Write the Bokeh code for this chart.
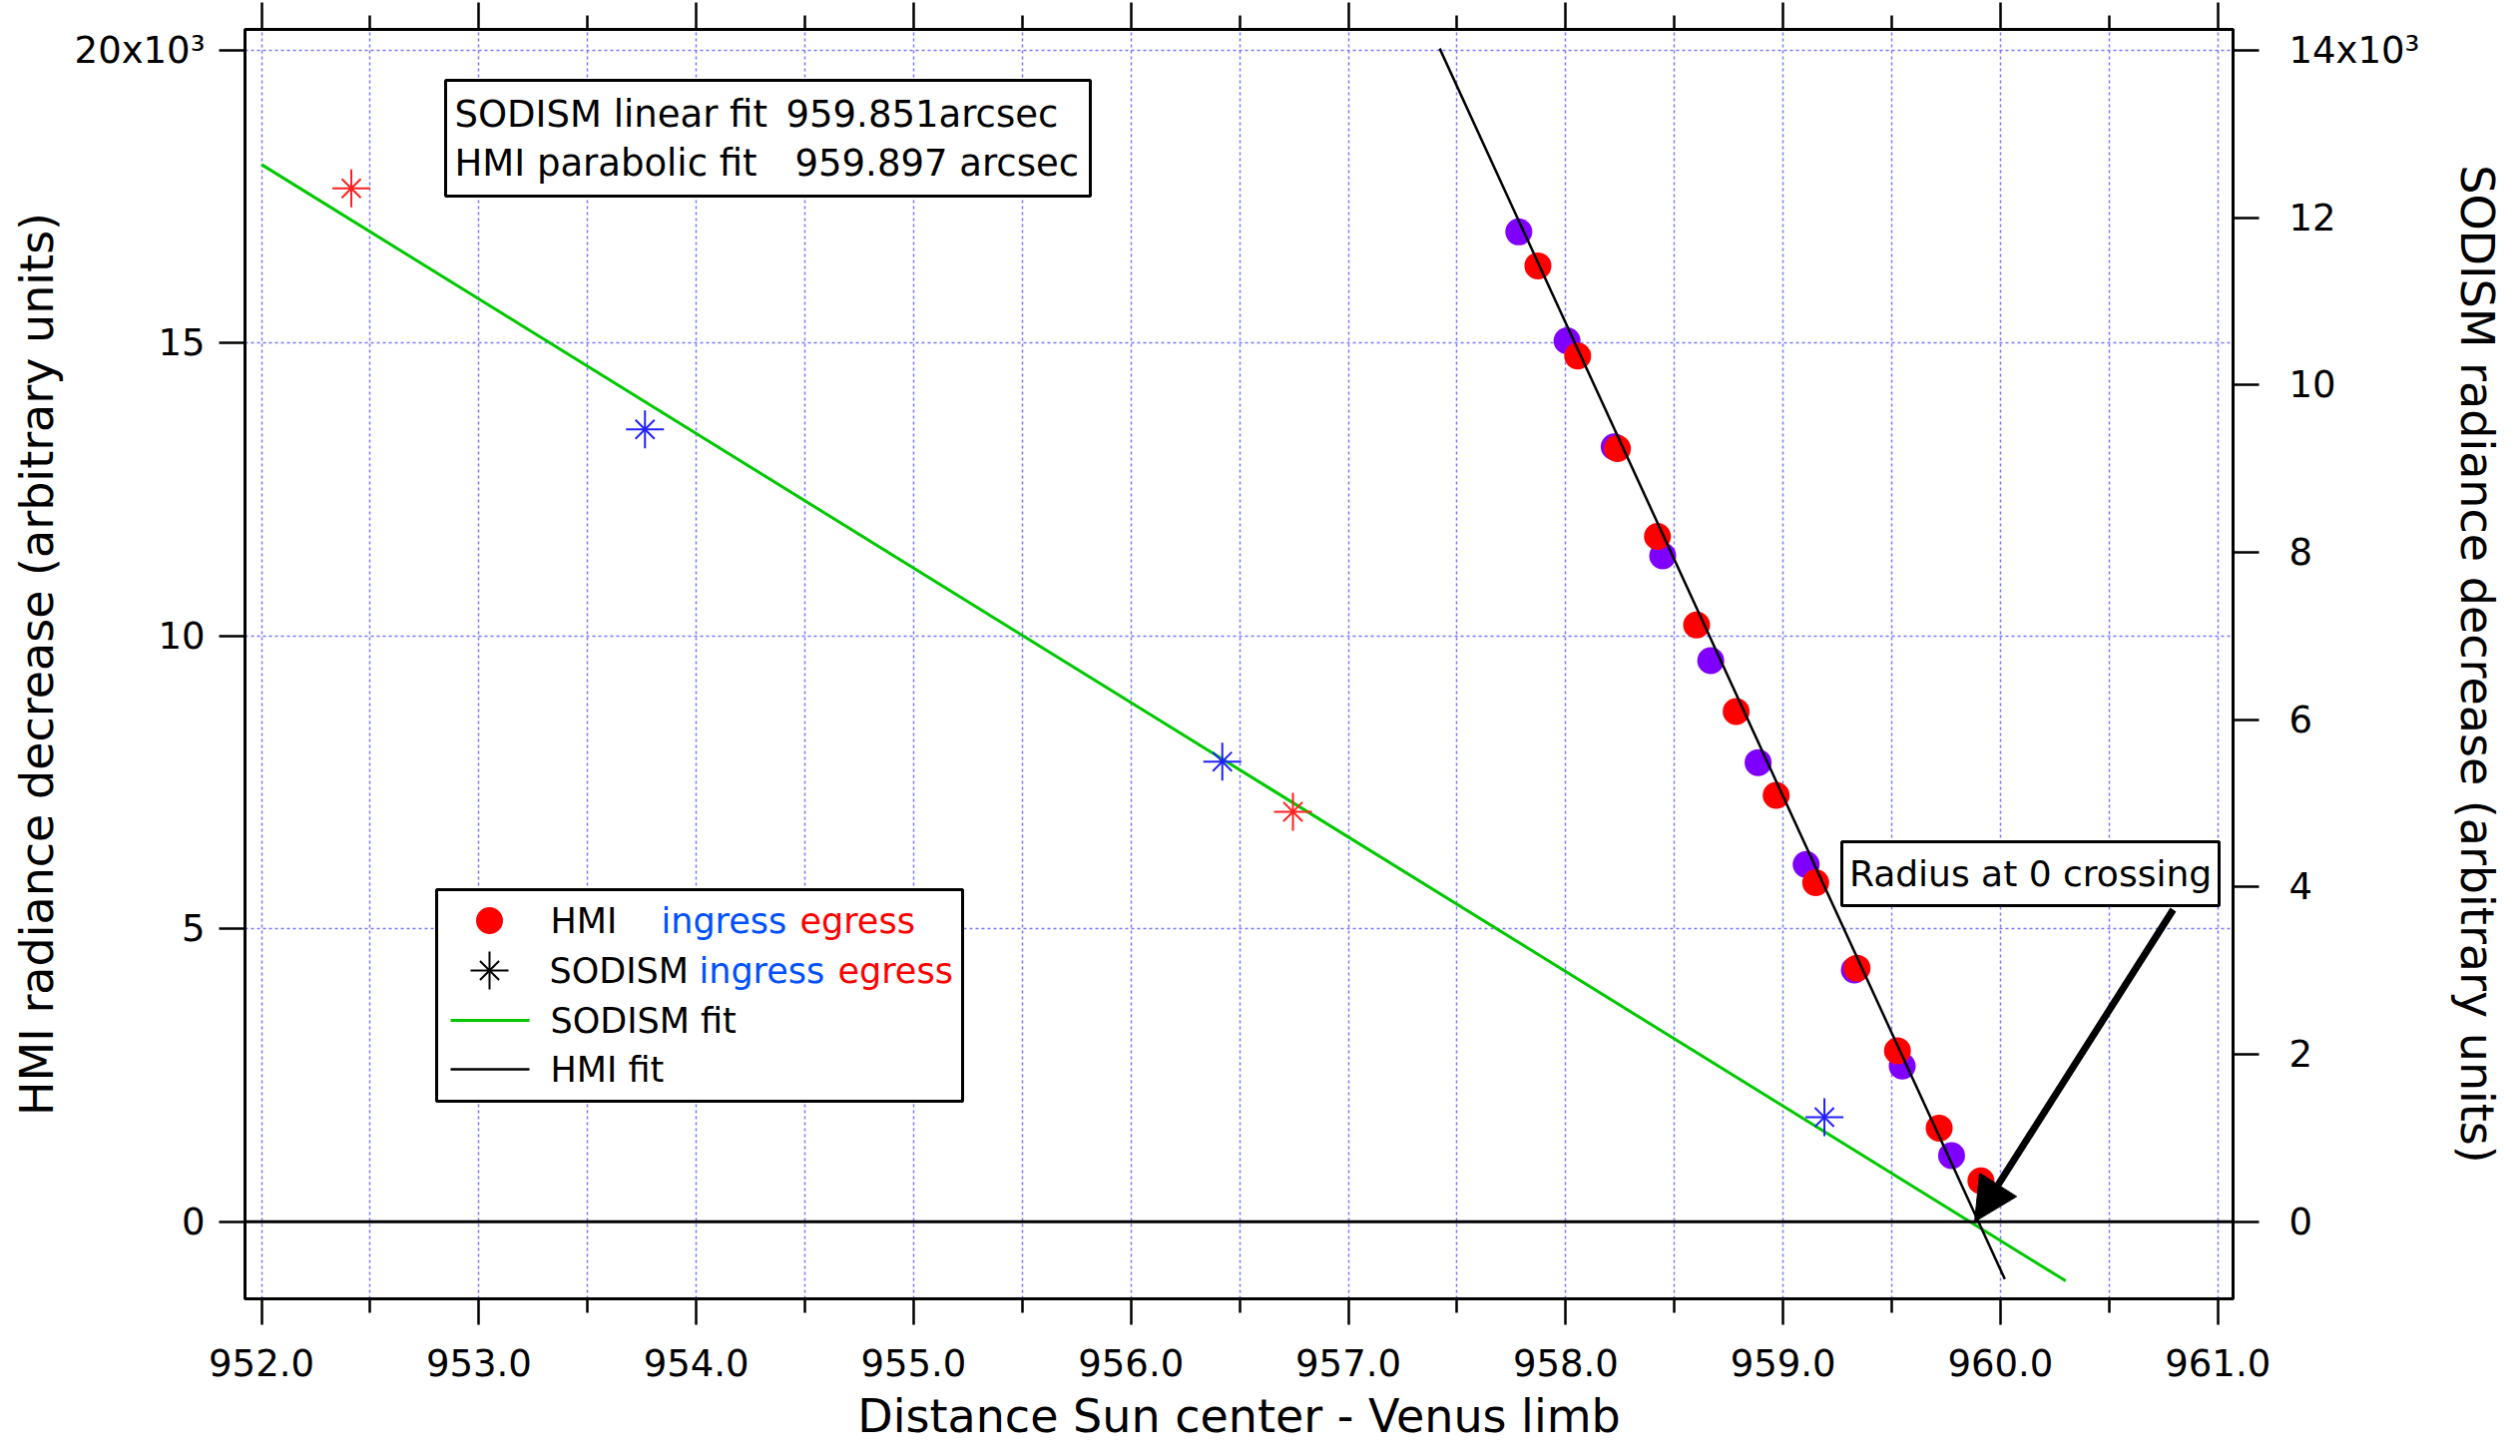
import numpy as np
from bokeh.plotting import figure
from bokeh.models import (Range1d, LinearAxis, FixedTicker, Span, Label, BoxAnnotation,
                          Arrow, NormalHead, PrintfTickFormatter)
from bokeh.embed import file_html
from bokeh.resources import INLINE

# ---------------- data (HMI in 10^3 units on left axis, SODISM in 10^3 units on right axis)
hmi_ingress_x = [957.784, 958.006, 958.223, 958.446, 958.667, 958.885, 959.106, 959.328, 959.548, 959.775]
hmi_ingress_y = [16.90, 15.04, 13.23, 11.37, 9.58, 7.84, 6.10, 4.30, 2.66, 1.13]
hmi_egress_x = [957.872, 958.055, 958.238, 958.422, 958.602, 958.784, 958.968, 959.150, 959.340, 959.526, 959.718, 959.910]
hmi_egress_y = [16.32, 14.78, 13.20, 11.70, 10.19, 8.71, 7.28, 5.79, 4.33, 2.92, 1.60, 0.70]

sodism_ingress_x = [953.764, 956.420, 959.190]
sodism_ingress_y = [9.47, 5.50, 1.25]
sodism_egress_x = [952.413, 956.745]
sodism_egress_y = [12.35, 4.90]

sodism_fit_x = [952.0, 960.30]
sodism_fit_y = [12.635, -0.707]
hmi_fit_x = [957.42, 960.02]
hmi_fit_y = [20.03, -0.98]

x_major_ticks = [952, 953, 954, 955, 956, 957, 958, 959, 960, 961]
x_minor_ticks = [952.5, 953.5, 954.5, 955.5, 956.5, 957.5, 958.5, 959.5, 960.5]
y_left_ticks = [0, 5, 10, 15, 20]
y_right_ticks = [0, 2, 4, 6, 8, 10, 12, 14]

fit_text_1 = ("SODISM linear fit", "959.851arcsec")
fit_text_2 = ("HMI parabolic fit", "959.897 arcsec")

# ---------------- layout helpers
FONT = "DejaVu Sans"
X0, X1 = 951.924, 961.07
Y0, Y1 = -1.315, 20.356
R_SCALE = 0.7
FL, FR, FT, FB = 245, 2237, 29, 1301  # frame edges in page pixels


def px2x(px):
    return X0 + (px - FL) / (FR - FL) * (X1 - X0)


def px2y(py):
    return Y1 - (py - FT) / (FB - FT) * (Y1 - Y0)


p = figure(width=2517, height=1451, output_backend="svg", toolbar_location=None,
           x_range=Range1d(X0, X1), y_range=Range1d(Y0, Y1),
           min_border_left=FL, min_border_right=2517 - FR, min_border_top=FT,
           min_border_bottom=1451 - FB)
p.extra_y_ranges = {"right": Range1d(Y0 * R_SCALE, Y1 * R_SCALE)}
p.outline_line_color = "black"
p.outline_line_width = 3
p.background_fill_color = "white"
p.border_fill_color = "white"


def style_axis(ax, tick_out=26, minor_out=0):
    ax.axis_line_color = "black"
    ax.axis_line_width = 3
    ax.major_tick_line_color = "black"
    ax.major_tick_line_width = 2.5
    ax.major_tick_in = 0
    ax.major_tick_out = tick_out
    ax.minor_tick_line_color = "black" if minor_out else None
    ax.minor_tick_line_width = 2.5
    ax.minor_tick_in = 0
    ax.minor_tick_out = minor_out
    ax.major_label_text_font = FONT
    ax.major_label_text_font_size = "37px"
    ax.major_label_text_color = "black"
    ax.axis_label_text_font = FONT
    ax.axis_label_text_font_size = "46px"
    ax.axis_label_text_font_style = "normal"
    ax.axis_label_text_color = "black"


# bottom axis
xb = p.xaxis[0]
xb.ticker = FixedTicker(ticks=x_major_ticks, minor_ticks=x_minor_ticks)
xb.formatter = PrintfTickFormatter(format="%.1f")
xb.axis_label = "Distance Sun center - Venus limb"
style_axis(xb, 26, 14)
xb.major_label_standoff = 24
xb.axis_label_standoff = 10

# left axis
yl = p.yaxis[0]
yl.ticker = FixedTicker(ticks=y_left_ticks)
yl.major_label_overrides = {20: "20x10³"}
yl.axis_label = "HMI radiance decrease (arbitrary units)"
style_axis(yl, 26, 0)
yl.major_label_standoff = 14
yl.axis_label_standoff = 8

# right axis
yr = LinearAxis(y_range_name="right", ticker=FixedTicker(ticks=y_right_ticks))
yr.major_label_overrides = {14: "14x10³"}
yr.axis_label = "SODISM radiance decrease (arbitrary units)"
style_axis(yr, 26, 0)
yr.major_label_standoff = 30
yr.axis_label_standoff = 28
p.add_layout(yr, "right")

# top axis (ticks only, no labels)
xt = LinearAxis(ticker=FixedTicker(ticks=x_major_ticks, minor_ticks=x_minor_ticks))
style_axis(xt, 27, 14)
xt.major_label_overrides = {t: "" for t in x_major_ticks}
xt.major_label_text_font_size = "0px"
xt.major_label_standoff = 0
p.add_layout(xt, "above")

# grids
p.xgrid.ticker = FixedTicker(ticks=sorted(x_major_ticks + x_minor_ticks))
p.ygrid.ticker = FixedTicker(ticks=[5, 10, 15, 20])
for g in (p.xgrid, p.ygrid):
    g.grid_line_color = "#7878FF"
    g.grid_line_width = 1.5
    g.grid_line_dash = "3 3"

# zero line
p.add_layout(Span(location=0, dimension="width", line_color="black", line_width=3))

STAR_BIG, STAR_DIAG, STAR_W = 38, 27, 2.0

# data glyphs
p.line(sodism_fit_x, sodism_fit_y, line_color="#00C800", line_width=3, y_range_name="right")
for xs, ys, col in ((sodism_ingress_x, sodism_ingress_y, "#2020FF"),
                    (sodism_egress_x, sodism_egress_y, "#FF2020")):
    p.scatter(xs, ys, marker="cross", size=STAR_BIG, line_color=col, line_width=STAR_W, y_range_name="right")
    p.scatter(xs, ys, marker="x", size=STAR_DIAG, line_color=col, line_width=STAR_W, y_range_name="right")

p.scatter(hmi_ingress_x, hmi_ingress_y, marker="circle", size=27, fill_color="#7F00FF", line_color=None)
p.scatter(hmi_egress_x, hmi_egress_y, marker="circle", size=27, fill_color="#FF0000", line_color=None)
p.line(hmi_fit_x, hmi_fit_y, line_color="black", line_width=2.5)


# ---------------- annotations
def box(l, t, r, b):
    p.add_layout(BoxAnnotation(left=px2x(l), right=px2x(r), top=px2y(t), bottom=px2y(b),
                               fill_color="white", fill_alpha=1.0, line_color="black",
                               line_width=3, line_alpha=1.0))


def label(text, px, py, size="37px", color="black", align="left"):
    lab = Label(x=px2x(px), y=px2y(py), text=text, text_font=FONT, text_font_size=size,
                text_color=color, text_align=align, text_baseline="middle", level="overlay")
    p.add_layout(lab)


# fit results box
box(446, 80, 1092, 196)
label(fit_text_1[0], 455, 114)
label(fit_text_1[1], 787, 114)
label(fit_text_2[0], 455, 163)
label(fit_text_2[1], 796, 163)

# legend box
box(437, 891, 964, 1103)
rows = [922, 972, 1022, 1071]
p.scatter([px2x(490)], [px2y(rows[0])], marker="circle", size=27, fill_color="#FF0000",
          line_color=None, level="overlay")
p.scatter([px2x(490)], [px2y(rows[1])], marker="cross", size=STAR_BIG, line_color="black",
          line_width=STAR_W, level="overlay")
p.scatter([px2x(490)], [px2y(rows[1])], marker="x", size=STAR_DIAG, line_color="black",
          line_width=STAR_W, level="overlay")
p.line([px2x(451), px2x(530)], [px2y(rows[2])] * 2, line_color="#00C800", line_width=3, level="overlay")
p.line([px2x(451), px2x(530)], [px2y(rows[3])] * 2, line_color="black", line_width=2.5, level="overlay")
label("HMI", 551, rows[0], "35px")
label("ingress", 662, rows[0], "35px", "#0050FF")
label("egress", 801, rows[0], "35px", "#FF0000")
label("SODISM", 550, rows[1], "35px")
label("ingress", 700, rows[1], "35px", "#0050FF")
label("egress", 839, rows[1], "35px", "#FF0000")
label("SODISM fit", 551, rows[2], "35px")
label("HMI fit", 551, rows[3], "35px")

# radius box + arrow
box(1845, 843, 2223, 907)
label("Radius at 0 crossing", 2034, 875, "36px", align="center")
p.add_layout(Arrow(end=NormalHead(size=44, fill_color="black", line_color="black"),
                   x_start=px2x(2177), y_start=px2y(911), x_end=px2x(1978), y_end=0.0,
                   line_width=7, line_color="black"))

open("out.html", "w").write(file_html(p, INLINE))
